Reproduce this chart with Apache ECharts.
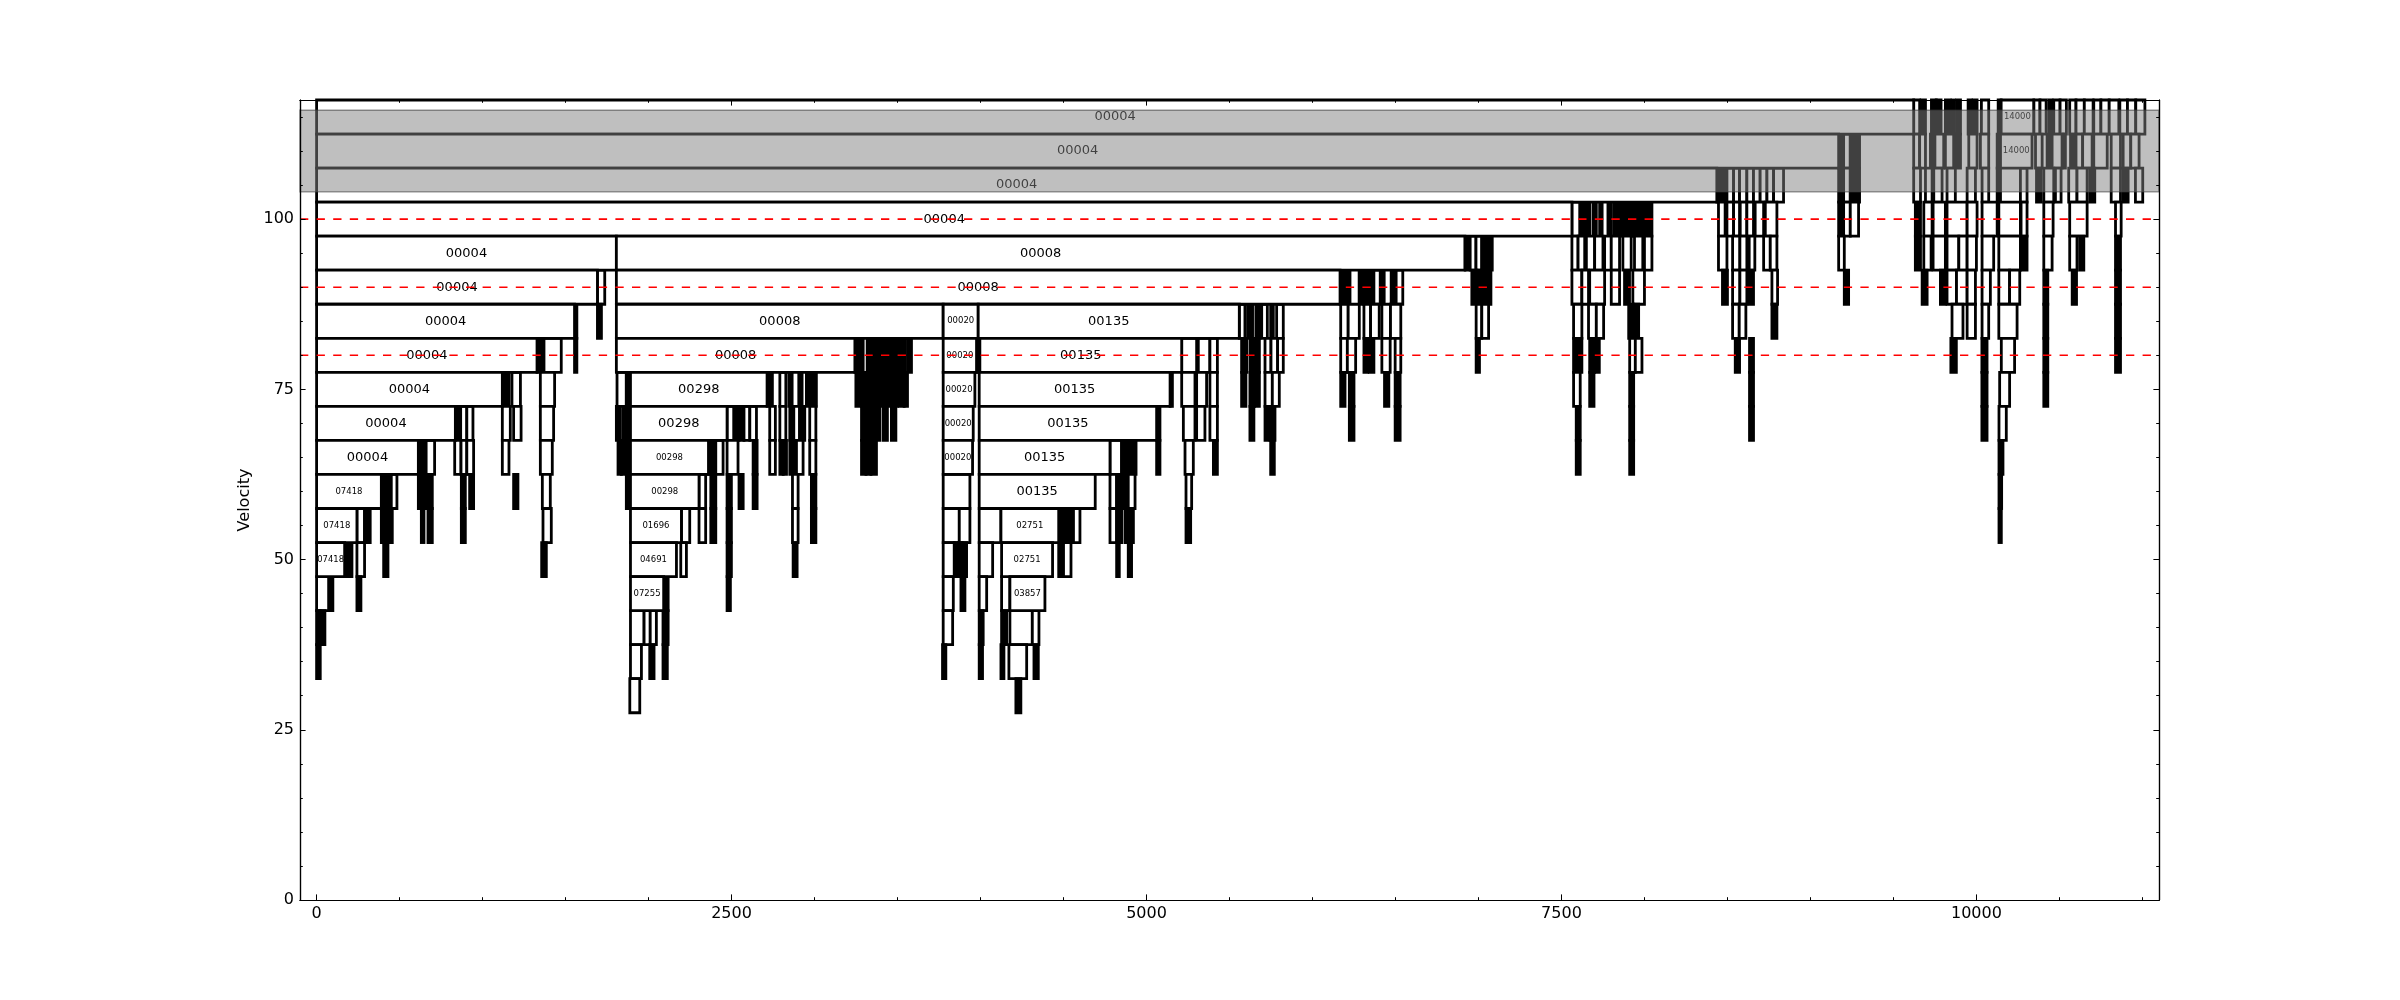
<!DOCTYPE html>
<html>
<head>
<meta charset="utf-8">
<title>Velocity tree</title>
<script src="https://cdn.jsdelivr.net/npm/echarts@6/dist/echarts.min.js"></script>
<style>
  html, body { margin: 0; padding: 0; background: #fff; }
  #chart { width: 2400px; height: 1000px; }
</style>
</head>
<body>
<div id="chart"></div>
<script>
// labelled boxes of the tree: [velocity, start, end, label]
const trunkBoxes = [
  [115, 0, 9622, '00004'], [115, 10149, 10345, '14000'],
  [110, 0, 9170, '00004'], [110, 10145, 10335, '14000'],
  [105, 0, 8436, '00004'],
  [100, 0, 7563, '00004'],
  [95, 0, 1806, '00004'], [95, 1806, 6918, '00008'],
  [90, 0, 1692, '00004'], [90, 1806, 6166, '00008'],
  [85, 0, 1554, '00004'], [85, 1806, 3775, '00008'], [85, 3775, 3986, '00020'], [85, 3986, 5559, '00135'],
  [80, 0, 1328, '00004'], [80, 1806, 3243, '00008'], [80, 3775, 3976, '00020'], [80, 3996, 5212, '00135'],
  [75, 0, 1119, '00004'], [75, 1891, 2714, '00298'], [75, 3775, 3966, '00020'], [75, 3992, 5142, '00135'],
  [70, 0, 836, '00004'], [70, 1891, 2473, '00298'], [70, 3775, 3956, '00020'], [70, 3992, 5061, '00135'],
  [65, 0, 613, '00004'], [65, 1891, 2361, '00298'], [65, 3775, 3952, '00020'], [65, 3992, 4780, '00135'],
  [60, 0, 390, '07418'], [60, 1891, 2304, '00298'], [60, 3992, 4691, '00135'],
  [55, 0, 243, '07418'], [55, 1891, 2198, '01696'], [55, 4123, 4471, '02751'],
  [50, 0, 169, '07418'], [50, 1891, 2168, '04691'], [50, 4127, 4434, '02751'],
  [45, 1891, 2091, '07255'], [45, 4177, 4388, '03857']
];

// unlabelled boxes: [velocity, start, end]
const leftCluster = [
  [90, 1692, 1736],
  [85, 1554, 1568], [85, 1692, 1716],
  [80, 1328, 1350], [80, 1350, 1370], [80, 1370, 1474], [80, 1554, 1568],
  [75, 1119, 1140], [75, 1140, 1160], [75, 1177, 1228], [75, 1348, 1434],
  [70, 836, 868], [70, 868, 905], [70, 905, 942], [70, 1119, 1167], [70, 1187, 1232], [70, 1348, 1428],
  [65, 613, 636], [65, 636, 660], [65, 660, 711], [65, 832, 870], [65, 870, 905], [65, 905, 946], [65, 1119, 1159], [65, 1348, 1420],
  [60, 390, 413], [60, 413, 436], [60, 450, 484], [60, 613, 636], [60, 636, 660], [60, 671, 697], [60, 872, 896], [60, 922, 946], [60, 1187, 1213], [60, 1360, 1408],
  [55, 243, 289], [55, 289, 306], [55, 306, 323], [55, 390, 423], [55, 423, 456], [55, 631, 647], [55, 671, 697], [55, 872, 896], [55, 1364, 1414],
  [50, 169, 191], [50, 191, 213], [50, 243, 289], [50, 404, 430], [50, 1356, 1384],
  [45, 0, 74], [45, 74, 98], [45, 243, 267],
  [40, 0, 22], [40, 22, 50],
  [35, 0, 22]
];

const cluster1800 = [
  [80, 3243, 3270], [80, 3277, 3293], [80, 3317, 3333], [80, 3343, 3363], [80, 3373, 3393], [80, 3403, 3430], [80, 3430, 3460], [80, 3460, 3490], [80, 3490, 3514], [80, 3514, 3546], [80, 3560, 3584],
  [75, 1810, 1866], [75, 1866, 1891], [75, 2714, 2746], [75, 2791, 2827], [75, 2845, 2865], [75, 2905, 2925], [75, 2951, 2981], [75, 2981, 3011],
  [75, 3249, 3275], [75, 3283, 3310], [75, 3320, 3345], [75, 3355, 3380], [75, 3390, 3420], [75, 3430, 3460], [75, 3470, 3500], [75, 3510, 3540], [75, 3540, 3560],
  [70, 1806, 1830], [70, 1846, 1866], [70, 1866, 1891], [70, 2473, 2513], [70, 2519, 2545], [70, 2545, 2575], [70, 2575, 2610], [70, 2610, 2650], [70, 2730, 2764], [70, 2791, 2827],
  [70, 2851, 2875], [70, 2875, 2910], [70, 2910, 2941], [70, 2971, 3008], [70, 3283, 3310], [70, 3310, 3340], [70, 3340, 3365], [70, 3365, 3393], [70, 3413, 3439], [70, 3463, 3490],
  [65, 1816, 1836], [65, 1836, 1856], [65, 1866, 1891], [65, 2361, 2383], [65, 2383, 2405], [65, 2405, 2449], [65, 2473, 2539], [65, 2630, 2654], [65, 2730, 2764],
  [65, 2791, 2811], [65, 2811, 2831], [65, 2851, 2871], [65, 2871, 2891], [65, 2891, 2931], [65, 2971, 3008], [65, 3283, 3310], [65, 3310, 3340], [65, 3340, 3373],
  [60, 1866, 1891], [60, 2304, 2344], [60, 2375, 2405], [60, 2473, 2499], [60, 2545, 2570], [60, 2630, 2654], [60, 2867, 2901], [60, 2981, 3008],
  [55, 2198, 2248], [55, 2304, 2344], [55, 2375, 2405], [55, 2473, 2499], [55, 2867, 2901], [55, 2981, 3008],
  [50, 2194, 2228], [50, 2473, 2499], [50, 2871, 2895],
  [45, 2091, 2118], [45, 2473, 2493],
  [40, 1891, 1973], [40, 1973, 2010], [40, 2010, 2047], [40, 2087, 2118],
  [35, 1891, 1957], [35, 2007, 2033], [35, 2087, 2113],
  [30, 1887, 1947]
];

const cluster3800 = [
  [85, 5559, 5593], [85, 5609, 5639], [85, 5659, 5684], [85, 5694, 5728], [85, 5748, 5764], [85, 5784, 5824],
  [80, 3976, 3996], [80, 5212, 5302], [80, 5312, 5382], [80, 5382, 5427], [80, 5573, 5603], [80, 5623, 5651], [80, 5651, 5680], [80, 5714, 5750], [80, 5750, 5790], [80, 5790, 5824],
  [75, 5142, 5156], [75, 5212, 5292], [75, 5302, 5362], [75, 5382, 5427], [75, 5573, 5599], [75, 5623, 5651], [75, 5651, 5680], [75, 5714, 5758], [75, 5758, 5800],
  [70, 5061, 5081], [70, 5222, 5292], [70, 5302, 5352], [70, 5382, 5427], [70, 5623, 5647], [70, 5714, 5744], [70, 5744, 5774],
  [65, 4780, 4850], [65, 4850, 4880], [65, 4880, 4910], [65, 4910, 4937], [65, 5061, 5081], [65, 5232, 5282], [65, 5403, 5427], [65, 5748, 5770],
  [60, 3775, 3936], [60, 4780, 4820], [60, 4820, 4850], [60, 4860, 4890], [60, 4890, 4931], [60, 5238, 5272],
  [55, 3775, 3872], [55, 3872, 3936], [55, 3992, 4123], [55, 4471, 4500], [55, 4500, 4530], [55, 4530, 4560], [55, 4560, 4599],
  [55, 4780, 4820], [55, 4820, 4850], [55, 4870, 4895], [55, 4895, 4921], [55, 5238, 5266],
  [50, 3775, 3842], [50, 3842, 3866], [50, 3866, 3890], [50, 3890, 3916], [50, 3992, 4073], [50, 4471, 4500], [50, 4500, 4545], [50, 4820, 4836], [50, 4890, 4910],
  [45, 3775, 3836], [45, 3882, 3906], [45, 3992, 4037], [45, 4127, 4177],
  [40, 3775, 3832], [40, 3992, 4016], [40, 4127, 4157], [40, 4177, 4312], [40, 4312, 4352],
  [35, 3771, 3791], [35, 3992, 4012], [35, 4123, 4141], [35, 4171, 4278], [35, 4322, 4348],
  [30, 4213, 4243]
];

const cluster6000 = [
  [95, 6920, 6950], [95, 6950, 6985], [95, 6985, 7020], [95, 7020, 7050], [95, 7050, 7083],
  [90, 6166, 6196], [90, 6196, 6226], [90, 6281, 6310], [90, 6310, 6340], [90, 6340, 6370], [90, 6370, 6408], [90, 6418, 6432], [90, 6474, 6504], [90, 6504, 6544],
  [90, 6960, 6990], [90, 6990, 7020], [90, 7020, 7050], [90, 7050, 7075],
  [85, 6170, 6215], [85, 6215, 6282], [85, 6310, 6350], [85, 6350, 6402], [85, 6418, 6470], [85, 6470, 6532], [85, 6986, 7020], [85, 7020, 7061],
  [80, 6170, 6210], [80, 6210, 6260], [80, 6310, 6332], [80, 6342, 6370], [80, 6418, 6468], [80, 6498, 6532], [80, 6986, 7006],
  [75, 6170, 6196], [75, 6222, 6250], [75, 6434, 6460], [75, 6498, 6528],
  [70, 6222, 6250], [70, 6498, 6528]
];

const cluster7500 = [
  [100, 7563, 7610], [100, 7625, 7640], [100, 7650, 7670], [100, 7690, 7710], [100, 7730, 7745], [100, 7780, 7800], [100, 7815, 7840],
  [100, 7840, 7870], [100, 7870, 7900], [100, 7900, 7930], [100, 7930, 7960], [100, 7960, 7990], [100, 7990, 8020], [100, 8020, 8045],
  [95, 7563, 7600], [95, 7600, 7640], [95, 7650, 7700], [95, 7700, 7750], [95, 7760, 7800], [95, 7800, 7850], [95, 7870, 7920], [95, 7940, 7990], [95, 8000, 8045],
  [90, 7563, 7623], [90, 7623, 7663], [90, 7670, 7760], [90, 7800, 7850], [90, 7880, 7910], [90, 7930, 8000],
  [85, 7573, 7623], [85, 7663, 7710], [85, 7710, 7754], [85, 7905, 7935], [85, 7935, 7965],
  [80, 7573, 7600], [80, 7600, 7623], [80, 7670, 7700], [80, 7700, 7728], [80, 7911, 7945], [80, 7945, 7985],
  [75, 7573, 7613], [75, 7670, 7696], [75, 7911, 7935],
  [70, 7589, 7613], [70, 7911, 7935],
  [65, 7589, 7613], [65, 7911, 7935]
];

const cluster8400 = [
  [105, 8436, 8466], [105, 8466, 8497], [105, 8497, 8537], [105, 8537, 8573], [105, 8573, 8617], [105, 8617, 8657], [105, 8657, 8697], [105, 8697, 8738], [105, 8738, 8778], [105, 8778, 8838],
  [100, 8446, 8486], [100, 8497, 8537], [100, 8537, 8573], [100, 8577, 8617], [100, 8617, 8657], [100, 8667, 8718], [100, 8728, 8798],
  [95, 8446, 8497], [95, 8531, 8575], [95, 8575, 8617], [95, 8631, 8665], [95, 8718, 8758], [95, 8758, 8798],
  [90, 8470, 8500], [90, 8531, 8575], [90, 8575, 8617], [90, 8631, 8657], [90, 8768, 8802],
  [85, 8531, 8571], [85, 8571, 8611], [85, 8768, 8798],
  [80, 8547, 8573], [80, 8633, 8657],
  [75, 8633, 8657],
  [70, 8633, 8657]
];

const cluster9200 = [
  [110, 9170, 9200], [110, 9200, 9240], [110, 9240, 9270], [110, 9270, 9296],
  [105, 9170, 9200], [105, 9200, 9240], [105, 9240, 9270], [105, 9270, 9296],
  [100, 9170, 9200], [100, 9200, 9240], [100, 9240, 9290],
  [95, 9170, 9204],
  [90, 9204, 9230]
];

const cluster9600 = [
  [115, 9622, 9658], [115, 9666, 9693], [115, 9729, 9758], [115, 9758, 9787], [115, 9813, 9843], [115, 9853, 9867], [115, 9880, 9904], [115, 9950, 9970],
  [115, 9980, 10004], [115, 10030, 10074], [115, 10131, 10149], [115, 10346, 10383], [115, 10383, 10420], [115, 10436, 10456], [115, 10466, 10504],
  [115, 10504, 10542], [115, 10562, 10600], [115, 10600, 10650], [115, 10650, 10703], [115, 10707, 10750], [115, 10750, 10800], [115, 10800, 10858],
  [115, 10864, 10910], [115, 10910, 10960], [115, 10960, 11015],
  [110, 9622, 9658], [110, 9658, 9693], [110, 9723, 9750], [110, 9750, 9803], [110, 9813, 9863], [110, 9873, 9904], [110, 9954, 10004], [110, 10024, 10074],
  [110, 10125, 10145], [110, 10356, 10396], [110, 10426, 10456], [110, 10456, 10516], [110, 10526, 10536], [110, 10567, 10600], [110, 10600, 10640],
  [110, 10640, 10697], [110, 10707, 10788], [110, 10812, 10868], [110, 10884, 10930], [110, 10930, 10980],
  [105, 9622, 9663], [105, 9693, 9733], [105, 9743, 9793], [105, 9823, 9873], [105, 9944, 9994], [105, 10034, 10074], [105, 10125, 10145], [105, 10265, 10305],
  [105, 10362, 10390], [105, 10406, 10466], [105, 10476, 10510], [105, 10556, 10606], [105, 10606, 10667], [105, 10683, 10713], [105, 10812, 10868],
  [105, 10884, 10914], [105, 10958, 11002],
  [100, 9632, 9663], [100, 9683, 9733], [100, 9739, 9813], [100, 9823, 9944], [100, 9944, 10004], [100, 10034, 10125], [100, 10135, 10265], [100, 10269, 10305],
  [100, 10406, 10462], [100, 10562, 10667], [100, 10838, 10872],
  [95, 9632, 9663], [95, 9683, 9727], [95, 9739, 9813], [95, 9823, 9894], [95, 9894, 9944], [95, 9944, 10000], [95, 10034, 10104], [95, 10135, 10265],
  [95, 10275, 10305], [95, 10406, 10456], [95, 10562, 10606], [95, 10622, 10647], [95, 10838, 10868],
  [90, 9673, 9703], [90, 9783, 9813], [90, 9823, 9880], [90, 9880, 9944], [90, 9944, 9994], [90, 10034, 10084], [90, 10135, 10200], [90, 10200, 10261],
  [90, 10406, 10430], [90, 10577, 10603], [90, 10838, 10868],
  [85, 9853, 9919], [85, 9944, 9994], [85, 10034, 10074], [85, 10135, 10245], [85, 10406, 10430], [85, 10838, 10868],
  [80, 9846, 9879], [80, 10033, 10064], [80, 10150, 10230], [80, 10406, 10430], [80, 10838, 10868],
  [75, 10033, 10064], [75, 10140, 10200], [75, 10406, 10430],
  [70, 10033, 10064], [70, 10136, 10180],
  [65, 10136, 10160],
  [60, 10136, 10152],
  [55, 10136, 10150]
];

const xTickLabels = [0, 2500, 5000, 7500, 10000];
const yTickLabels = [0, 25, 50, 75, 100];
const thresholds = [80, 90, 100];
const saturatedBand = [104, 116];

const X_MIN = -100, X_MAX = 11100, Y_MIN = 0, Y_MAX = 117.5;
const ROW = 5;
const FONT = 'DejaVu Sans';
const EDGE = 2.8;

const xMinor = [];
for (let v = 0; v <= 11000; v += 500) xMinor.push(v);
const yMinor = [];
for (let v = 0; v <= 115; v += 5) yMinor.push(v);

const allBoxes = [].concat(leftCluster, cluster1800, cluster3800, cluster6000,
  cluster7500, cluster8400, cluster9200, cluster9600, trunkBoxes);
const boxLabels = allBoxes.map(b => b[3] || '');

const chart = echarts.init(document.getElementById('chart'));

function renderBox(params, api) {
  const x0 = api.value(0), x1 = api.value(1), v = api.value(2);
  const p0 = api.coord([x0, v + ROW / 2]);
  const p1 = api.coord([x1, v - ROW / 2]);
  const w = p1[0] - p0[0], h = p1[1] - p0[1];
  // narrow boxes read as solid bars
  const fill = w < 5.5 ? '#000' : '#fff';
  const children = [{
    type: 'rect',
    shape: { x: p0[0], y: p0[1], width: w, height: h },
    style: { fill: fill, stroke: '#000', lineWidth: EDGE }
  }];
  const label = boxLabels[params.dataIndex];
  if (label) {
    const fs = w > 90 ? 13 : Math.min(8.5, (w - 2) / 3.1);
    children.push({
      type: 'text',
      x: (p0[0] + p1[0]) / 2,
      y: (p0[1] + p1[1]) / 2,
      style: { text: label, fontSize: fs, fontFamily: FONT, fill: '#000', align: 'center', verticalAlign: 'middle' }
    });
  }
  return { type: 'group', children: children };
}

function axisX(position, ticks, len, labels) {
  return {
    type: 'value', min: X_MIN, max: X_MAX, position: position, z: 10,
    splitLine: { show: false },
    axisLine: { show: true, onZero: false, lineStyle: { color: '#000', width: 1.2 } },
    axisTick: { show: true, inside: true, length: len, customValues: ticks, lineStyle: { color: '#000', width: 1 } },
    axisLabel: labels ? {
      customValues: labels, formatter: v => String(v), color: '#000',
      fontSize: 16, fontFamily: FONT, margin: 6
    } : { show: false }
  };
}

function axisY(position, ticks, len, labels) {
  const a = {
    type: 'value', min: Y_MIN, max: Y_MAX, position: position, z: 10,
    splitLine: { show: false },
    axisLine: { show: true, onZero: false, lineStyle: { color: '#000', width: 1.2 } },
    axisTick: { show: true, inside: true, length: len, customValues: ticks, lineStyle: { color: '#000', width: 1 } },
    axisLabel: labels ? {
      customValues: labels, formatter: v => String(v), color: '#000',
      fontSize: 16, fontFamily: FONT, margin: 6
    } : { show: false }
  };
  if (labels) {
    a.name = 'Velocity';
    a.nameLocation = 'middle';
    a.nameGap = 38;
    a.nameTextStyle = { color: '#000', fontSize: 16, fontFamily: FONT };
  }
  return a;
}

const option = {
  animation: false,
  backgroundColor: '#fff',
  grid: { left: 300, right: 241, top: 100, bottom: 100 },
  xAxis: [
    axisX('bottom', xTickLabels, 5.6, xTickLabels),
    axisX('bottom', xMinor, 2.8, null),
    axisX('top', xTickLabels, 5.6, null),
    axisX('top', xMinor, 2.8, null)
  ],
  yAxis: [
    axisY('left', yTickLabels, 5.6, yTickLabels),
    axisY('left', yMinor, 2.8, null),
    axisY('right', yTickLabels, 5.6, null),
    axisY('right', yMinor, 2.8, null)
  ],
  series: [
    {
      type: 'custom',
      z: 2,
      renderItem: renderBox,
      encode: { x: [0, 1], y: 2 },
      data: allBoxes.map(b => [b[1], b[2], b[0]])
    },
    {
      // red dashed thresholds
      type: 'custom',
      z: 4,
      renderItem: function (params, api) {
        const a = api.coord([api.value(0), api.value(2)]);
        const b = api.coord([api.value(1), api.value(2)]);
        return {
          type: 'line',
          shape: { x1: a[0], y1: a[1], x2: b[0], y2: b[1] },
          style: { stroke: '#ff0000', lineWidth: 1.6, lineDash: [8.3, 8.3] }
        };
      },
      encode: { x: [0, 1], y: 2 },
      data: thresholds.map(v => [X_MIN, X_MAX, v])
    },
    {
      // grey saturated band drawn over the boxes
      type: 'custom',
      z: 5,
      renderItem: function (params, api) {
        const a = api.coord([api.value(0), api.value(3)]);
        const b = api.coord([api.value(1), api.value(2)]);
        return {
          type: 'rect',
          shape: { x: a[0], y: a[1], width: b[0] - a[0], height: b[1] - a[1] },
          style: { fill: 'rgba(128,128,128,0.5)', stroke: 'rgba(60,60,60,0.55)', lineWidth: 1.4 }
        };
      },
      encode: { x: [0, 1], y: [2, 3] },
      data: [[X_MIN, X_MAX, saturatedBand[0], saturatedBand[1]]]
    }
  ]
};

chart.setOption(option);
</script>
</body>
</html>
